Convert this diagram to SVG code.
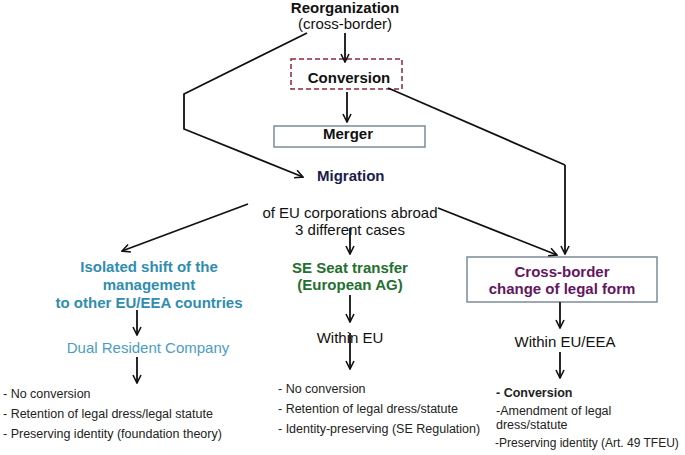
<svg xmlns="http://www.w3.org/2000/svg" width="685" height="455" viewBox="0 0 685 455">
<style>
text{font-family:"Liberation Sans",Arial,sans-serif;font-size:15px;fill:#111}
.b{font-weight:bold}
.c{text-anchor:middle}
.s{font-size:12.5px;fill:#222}
.teal{fill:#2f8db0}
.teal2{fill:#4b9dc2}
.green{fill:#23702f}
.purple{fill:#64165f}
.navy{fill:#1c1c4e}
.edge{fill:none;stroke:#111;stroke-width:1.8;marker-end:url(#ah)}
.line{fill:none;stroke:#111;stroke-width:1.8}
</style>
<defs>
<marker id="ah" viewBox="0 0 10 10" refX="9" refY="5" markerWidth="10" markerHeight="10" markerUnits="userSpaceOnUse" orient="auto">
<path d="M1,1 L9,5 L1,9" fill="none" stroke="#111" stroke-width="1.6"/>
</marker>
</defs>
<rect width="685" height="455" fill="#fff"/>

<g id="reorganization">
<text class="b c" x="345" y="13">Reorganization</text>
<text class="c" x="345" y="29">(cross-border)</text>
</g>
<g id="conversion">
<rect x="291" y="59" width="111" height="30" fill="none" stroke="#8b2a3a" stroke-width="1.5" stroke-dasharray="5,3"/>
<text class="b c" x="349" y="83">Conversion</text>
</g>
<g id="merger">
<rect x="274" y="126" width="151" height="21" fill="#fff" stroke="#7d8b99" stroke-width="1.5"/>
<text class="b c" x="348" y="139">Merger</text>
</g>
<g id="migration">
<text class="b navy" x="317" y="181">Migration</text>
</g>
<g id="cases">
<text class="c" x="350" y="218">of EU corporations abroad</text>
<text class="c" x="350" y="235">3 different cases</text>
</g>
<g id="isolated">
<text class="b c teal" x="149" y="272">Isolated shift of the</text>
<text class="b c teal" x="149" y="290">management</text>
<text class="b c teal" x="149" y="308">to other EU/EEA countries</text>
</g>
<g id="dual">
<text class="c teal2" x="148" y="353">Dual Resident Company</text>
</g>
<g id="left-list">
<text class="s" x="3" y="398">- No conversion</text>
<text class="s" x="3" y="418">- Retention of legal dress/legal statute</text>
<text class="s" x="3" y="438">- Preserving identity (foundation theory)</text>
</g>
<g id="se">
<text class="b c green" x="350" y="273">SE Seat transfer</text>
<text class="b c green" x="350" y="290">(European AG)</text>
</g>
<g id="within-eu">
<text class="c" x="350" y="343">Within EU</text>
</g>
<g id="middle-list">
<text class="s" x="278" y="393">- No conversion</text>
<text class="s" x="278" y="413">- Retention of legal dress/statute</text>
<text class="s" x="278" y="433">- Identity-preserving (SE Regulation)</text>
</g>
<g id="crossborder">
<rect x="467" y="257" width="190" height="45" fill="#fff" stroke="#7d8b99" stroke-width="1.5"/>
<text class="b c purple" x="562" y="277">Cross-border</text>
<text class="b c purple" x="562" y="294">change of legal form</text>
</g>
<g id="within-eea">
<text class="c" x="565" y="347">Within EU/EEA</text>
</g>
<g id="right-list">
<text class="s b" x="496" y="397">- Conversion</text>
<text class="s" x="496" y="415">-Amendment of legal</text>
<text class="s" x="496" y="429">dress/statute</text>
<text class="s" x="495" y="447" style="font-size:12px">-Preserving identity (Art. 49 TFEU)</text>
</g>

<g id="connectors">
<path class="edge" d="M345,33 L345,62"/>
<path class="edge" d="M347,92 L347,122"/>
<path class="edge" d="M307,33 L184,94 L184,129 L303,177"/>
<path class="line" d="M388,88 L565,165"/>
<path class="edge" d="M565,165 L565,254"/>
<path class="edge" d="M438,208 L557,255"/>
<path class="edge" d="M248,204 L122,251"/>
<path class="edge" d="M350,228 L350,254"/>
<path class="edge" d="M350,295 L350,322"/>
<path class="edge" d="M350,333 L350,369"/>
<path class="edge" d="M137,310 L137,335"/>
<path class="edge" d="M137,357 L137,383"/>
<path class="edge" d="M560,302 L560,328"/>
<path class="edge" d="M560,352 L560,378"/>
</g>
</svg>
